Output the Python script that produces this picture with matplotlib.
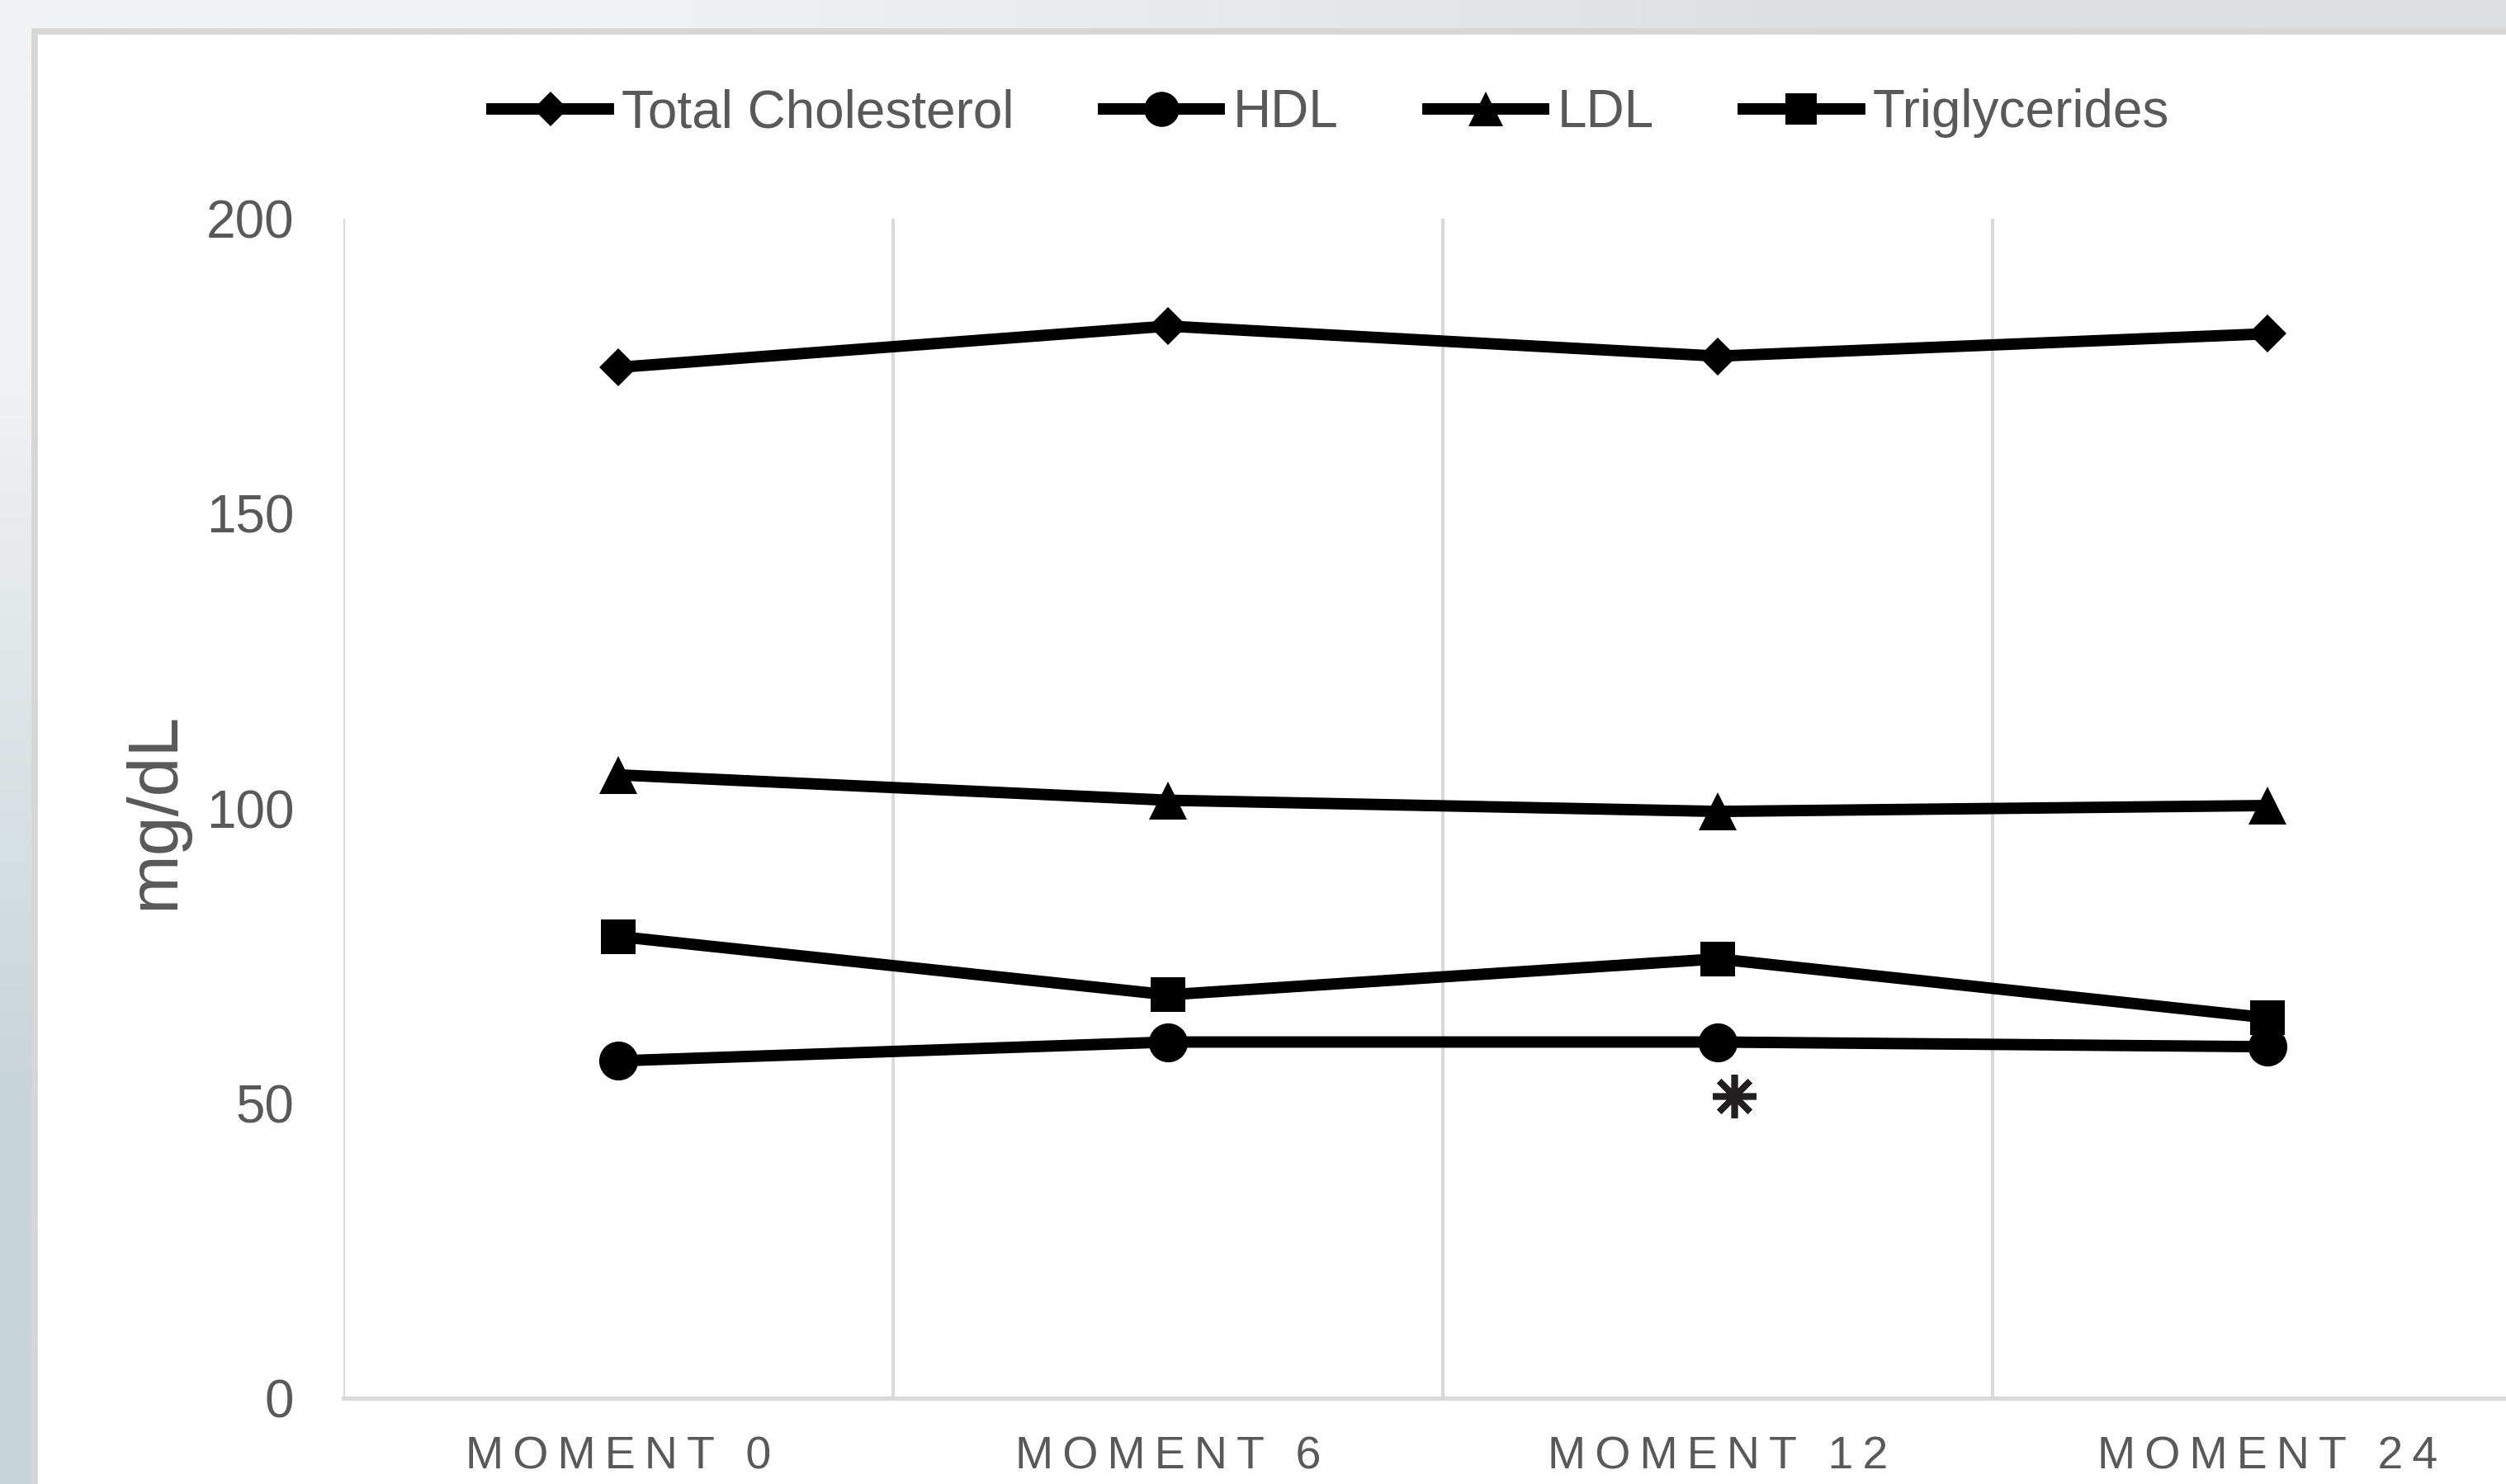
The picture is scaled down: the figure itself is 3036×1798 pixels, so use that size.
import numpy as np
import matplotlib
matplotlib.use("Agg")
import matplotlib.pyplot as plt
from matplotlib.patches import Rectangle
from matplotlib.markers import MarkerStyle

plt.rcParams['font.family'] = ['Liberation Sans', 'DejaVu Sans']

# data (mg/dL)
moments = ['MOMENT 0', 'MOMENT 6', 'MOMENT 12', 'MOMENT 24']
total_chol = [174.8, 181.8, 176.7, 180.5]
hdl = [57.2, 60.4, 60.4, 59.6]
ldl = [105.7, 101.4, 99.5, 100.5]
trig = [78.3, 68.4, 74.5, 64.5]

# significance mark next to HDL at moment 12
star_x = 2.03
star_y = 51.3

text_gray = '#595959'
grid_gray = '#d9d9d9'

fig = plt.figure(figsize=(30.36, 17.98), dpi=100)

# background around the chart box (slide backdrop)
bg = fig.add_axes([0, 0, 1, 1], zorder=-10)
corners = np.array([[[241, 242, 244], [220, 223, 226]],
                    [[199, 212, 215], [224, 228, 230]]]) / 255.0
bg.imshow(corners, aspect='auto', interpolation='bilinear', extent=[0, 1, 0, 1])
bg.set_axis_off()

# white chart box with grey border
fig.patches.append(Rectangle((0.0138, -0.02), 1.1, 0.9986, transform=fig.transFigure,
                             facecolor='white', edgecolor='#d6d6d6', linewidth=5.5,
                             zorder=-5))

ax = fig.add_axes([0.1370, 0.0578, 0.8775, 0.7948])
ax.set_facecolor('none')
x = np.arange(len(moments))

lw = 10
ax.plot(x, total_chol, color='black', lw=lw, marker='D', ms=23.5, mew=0,
        label='Total Cholesterol', zorder=3)
ax.plot(x, hdl, color='black', lw=lw, marker='o', ms=34, mew=0,
        label='HDL', zorder=3)
ax.plot(x, ldl, color='black', lw=lw, marker='^', ms=33, mew=0,
        label='LDL', zorder=3)
ax.plot(x, trig, color='black', lw=lw, marker='s', ms=30, mew=0,
        label='Triglycerides', zorder=3)

star = MarkerStyle((8, 2, 0), capstyle='round')
ax.plot([star_x], [star_y], linestyle='none', marker=star, ms=38, mew=5.5,
        color='#231f20', clip_on=False, zorder=4)
ax.plot([star_x], [star_y], linestyle='none', marker='o', ms=14, mew=0,
        color='#231f20', clip_on=False, zorder=4)

ax.set_xlim(-0.5, len(moments) - 0.5)
ax.set_ylim(0, 200)
ax.set_yticks([0, 50, 100, 150, 200])
ax.set_xticks(x)
ax.set_xticklabels(['\u2009'.join(m) for m in moments])
ax.set_xticks(np.arange(len(moments)) - 0.5, minor=True)
ax.grid(which='minor', axis='x', color=grid_gray, lw=3)
ax.tick_params(axis='x', which='both', length=0, pad=33, labelsize=40, labelcolor=text_gray)
ax.tick_params(axis='y', length=0, pad=43, labelsize=46, labelcolor=text_gray)

for side in ['left', 'top', 'right']:
    ax.spines[side].set_visible(False)
ax.spines['bottom'].set_color(grid_gray)
ax.spines['bottom'].set_linewidth(3.5)

fig.text(0.062, 0.4536, 'mg/dL', rotation=90, ha='center', va='center',
         fontsize=62, color=text_gray)

leg = ax.legend(loc='center', bbox_to_anchor=(0.531, 0.9236),
                bbox_transform=fig.transFigure, ncol=4, frameon=False,
                fontsize=46, handlelength=2.2, handletextpad=0.25,
                columnspacing=1.7, markerscale=0.9)
for t in leg.get_texts():
    t.set_color(text_gray)

fig.savefig('out.png', dpi=100)
